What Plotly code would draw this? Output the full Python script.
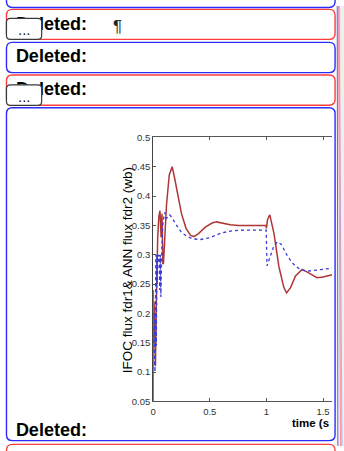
import plotly.graph_objects as go

# ---- simulation traces: rotor flux (Wb) versus time (s) ----
t_ifoc = [0, 0.001, 0.004, 0.008, 0.012, 0.016, 0.02, 0.026, 0.032, 0.04, 0.05, 0.06,
          0.07, 0.078, 0.085, 0.09, 0.095, 0.105, 0.118, 0.142, 0.168, 0.19, 0.22, 0.25,
          0.29, 0.33, 0.36, 0.40, 0.46, 0.52, 0.56, 0.62, 0.68, 0.75, 0.85, 0.95, 0.998,
          1.0, 1.01, 1.03, 1.067, 1.11, 1.154, 1.178, 1.213, 1.257, 1.315, 1.373, 1.447,
          1.5, 1.58]
flux_ifoc = [0.05, 0.24, 0.165, 0.22, 0.15, 0.19, 0.11, 0.2, 0.27, 0.33, 0.365, 0.375,
             0.33, 0.37, 0.285, 0.285, 0.3, 0.35, 0.386, 0.436, 0.45, 0.43, 0.40, 0.37,
             0.345, 0.333, 0.331, 0.336, 0.347, 0.354, 0.356, 0.354, 0.351, 0.35, 0.35,
             0.35, 0.35, 0.345, 0.36, 0.368, 0.336, 0.28, 0.244, 0.235, 0.244, 0.264,
             0.275, 0.269, 0.261, 0.262, 0.266]

t_ann = [0.004, 0.008, 0.012, 0.016, 0.02, 0.024, 0.028, 0.032, 0.036, 0.04, 0.046,
         0.052, 0.058, 0.063, 0.068, 0.075, 0.085, 0.095, 0.103, 0.115, 0.13, 0.147,
         0.17, 0.2, 0.25, 0.3, 0.35, 0.42, 0.5, 0.6, 0.7, 0.8, 0.9, 0.998, 1.005, 1.03,
         1.06, 1.096, 1.13, 1.18, 1.22, 1.26, 1.3, 1.36, 1.4, 1.45, 1.5, 1.58]
flux_ann = [0.15, 0.2, 0.12, 0.1, 0.2, 0.3, 0.145, 0.3, 0.25, 0.3, 0.29, 0.3, 0.24, 0.3,
            0.228, 0.3, 0.35, 0.365, 0.372, 0.362, 0.364, 0.368, 0.362, 0.352, 0.338,
            0.331, 0.327, 0.326, 0.329, 0.337, 0.341, 0.342, 0.342, 0.342, 0.281, 0.295,
            0.312, 0.322, 0.318, 0.300, 0.288, 0.28, 0.275, 0.272, 0.273, 0.275, 0.276,
            0.277]

x_ticks = [0, 0.5, 1, 1.5]
x_tick_text = ["0", "0.5", "1", "1.5"]
y_ticks = [0.05, 0.1, 0.15, 0.2, 0.25, 0.3, 0.35, 0.4, 0.45, 0.5]
y_tick_text = ["0.05", "0.1", "0.15", "0.2", "0.25", "0.3", "0.35", "0.4", "0.45", "0.5"]

# ---- review-pane balloons ----
balloon_labels = ["<b>Deleted:</b>"] * 4

W, H = 344, 451


def X(px):
    return px / W


def Y(py):
    return 1 - py / H


def rounded_rect(x0, y0, x1, y1, r):
    pts = [("M", [(x0 + r, y0)]), ("L", [(x1 - r, y0)]), ("Q", [(x1, y0), (x1, y0 + r)]),
           ("L", [(x1, y1 - r)]), ("Q", [(x1, y1), (x1 - r, y1)]), ("L", [(x0 + r, y1)]),
           ("Q", [(x0, y1), (x0, y1 - r)]), ("L", [(x0, y0 + r)]), ("Q", [(x0, y0), (x0 + r, y0)])]
    s = ""
    for cmd, coords in pts:
        s += cmd + " " + " ".join(f"{X(a):.5f},{Y(b):.5f}" for a, b in coords) + " "
    return s + "Z"


fig = go.Figure()

fig.add_trace(go.Scatter(x=t_ifoc, y=flux_ifoc, mode="lines",
                         line=dict(color="#b03636", width=1.5),
                         hoverinfo="skip", showlegend=False))
fig.add_trace(go.Scatter(x=t_ann, y=flux_ann, mode="lines",
                         line=dict(color="#3b3bd6", width=1.3, dash="dot"),
                         hoverinfo="skip", showlegend=False))

# balloon captions on a full-page overlay so the buttons can sit on top of them
fig.add_trace(go.Scatter(x=[13, 13, 13, 13], y=[19.5, 52.5, 87, 436.5],
                         text=balloon_labels, mode="text", textposition="middle right",
                         textfont=dict(family="Liberation Sans", size=18, color="#000000"),
                         xaxis="x2", yaxis="y2", hoverinfo="skip", showlegend=False,
                         cliponaxis=False))

shapes = []
red, blue = "#ff3c3c", "#2c2cff"
for (y0, y1, col) in [(-30, 1.5, blue), (3.5, 34.2, red), (37.3, 68.3, blue),
                      (70.7, 101.7, red), (104.3, 445.5, blue), (449.3, 490, red)]:
    shapes.append(dict(type="path", xref="paper", yref="paper",
                       path=rounded_rect(3.5, y0, 335, y1, 6),
                       line=dict(color=col, width=1.4), layer="above"))

# connector strip on the right edge
shapes.append(dict(type="rect", xref="paper", yref="paper", x0=X(336.5), x1=1,
                   y0=0, y1=1, fillcolor="#efeff2", line=dict(width=0), layer="below"))
for (xa, xb, col) in [(337.2, 337.8, "rgba(60,60,255,0.8)"), (338.2, 340.5, "rgba(255,90,90,0.55)"),
                      (339.0, 342.0, "rgba(80,80,255,0.35)"), (339.6, 341.2, "rgba(255,100,100,0.35)")]:
    shapes.append(dict(type="line", xref="paper", yref="paper", x0=X(xa), x1=X(xb),
                       y0=1, y1=0, line=dict(color=col, width=1), layer="above"))

# "..." buttons
for (y0, y1) in [(12.7, 34.3), (80.8, 101.8)]:
    shapes.append(dict(type="path", xref="paper", yref="paper",
                       path=rounded_rect(3.5, y0, 39, y1, 4),
                       fillcolor="#ffffff", line=dict(color="#3a3a3a", width=1.2),
                       layer="above"))


def note(px, py, text, size, color="#000000", xanchor="center", angle=0):
    return dict(x=X(px), y=Y(py), xref="paper", yref="paper", text=text, showarrow=False,
                xanchor=xanchor, yanchor="middle", textangle=angle,
                font=dict(family="Liberation Sans", size=size, color=color))


annotations = [
    note(21.2, 24.5, "...", 15, "#111111"),
    note(21.2, 92.5, "...", 15, "#111111"),
    note(116, 21.5, "¶", 17, "#222222"),
    note(125, 271, "IFOC flux fdr1& ANN flux fdr2 (wb)", 13.5, angle=-90),
    note(331, 427.5, "<b>time (s</b>", 11.5, xanchor="right"),
]

fig.update_layout(
    width=W, height=H, margin=dict(l=0, r=0, t=0, b=0),
    paper_bgcolor="#ffffff", plot_bgcolor="rgba(0,0,0,0)",
    shapes=shapes, annotations=annotations, showlegend=False,
    xaxis=dict(domain=[X(151.5), X(332)], range=[0, 1.58], tickvals=x_ticks,
               ticktext=x_tick_text, ticks="inside", ticklen=3, tickcolor="#555555",
               showline=True, linecolor="#555555", linewidth=1, mirror="ticks",
               showgrid=False, zeroline=False, ticklabelstandoff=1,
               tickfont=dict(family="Liberation Sans", size=9.5, color="#333333")),
    yaxis=dict(domain=[Y(405.3), Y(134.7)], range=[0.05, 0.5], tickvals=y_ticks,
               ticktext=y_tick_text, ticks="inside", ticklen=3, tickcolor="#555555",
               showline=True, linecolor="#444444", linewidth=1,
               showgrid=False, zeroline=False,
               tickfont=dict(family="Liberation Sans", size=9.5, color="#333333")),
    xaxis2=dict(domain=[0, 1], range=[0, W], visible=False, anchor="y2", fixedrange=True),
    yaxis2=dict(domain=[0, 1], range=[H, 0], visible=False, anchor="x2", fixedrange=True),
)

fig.write_html("out.html")
